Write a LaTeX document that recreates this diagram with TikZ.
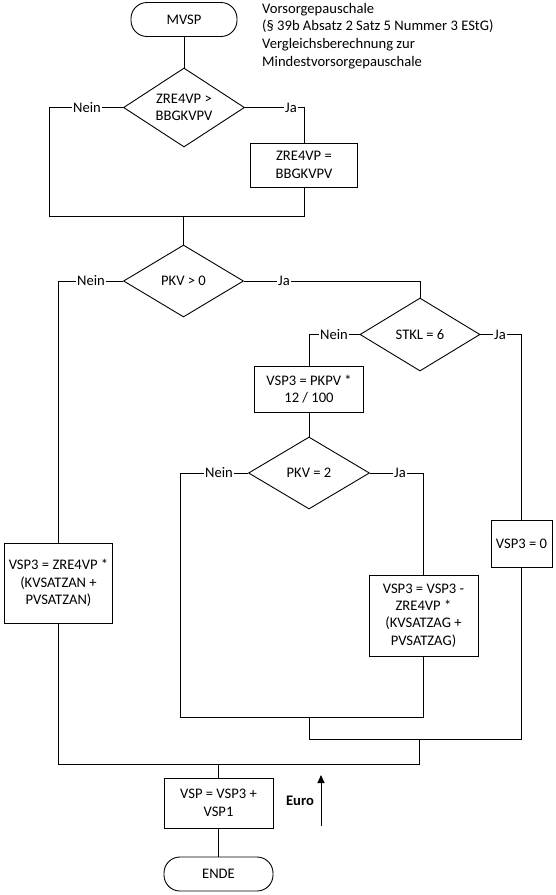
\documentclass[tikz,border=0pt]{standalone}
\usepackage{fontspec}
\setmainfont{Carlito}
\usetikzlibrary{shapes.geometric,arrows.meta}
\tikzset{
  base/.style={draw=black, line width=0.9pt, font=\fontsize{14.6}{17.4}\selectfont, align=center, inner sep=0pt},
  term/.style={base, rounded corners=16pt, minimum width=106pt, minimum height=34pt},
  proc/.style={base, rectangle},
  dec/.style={base, diamond, aspect=1.6},
  lbl/.style={fill=white, inner sep=1pt, font=\fontsize{14.6}{17.4}\selectfont},
  conn/.style={draw=black, line width=0.9pt},
}
\begin{document}
\begin{tikzpicture}[x=1pt,y=-1pt]
\useasboundingbox (0,0) rectangle (555,895);
% nodes
\node[term] (start) at (184,19.5) {MVSP};
\node[anchor=north west, align=left, inner sep=0pt, font=\fontsize{14.6}{17.6}\selectfont] (hdr) at (262,3) {Vorsorgepauschale\\(§ 39b Absatz 2 Satz 5 Nummer 3 EStG)\\Vergleichsberechnung zur\\Mindestvorsorgepauschale};
\node[dec, minimum width=121pt, minimum height=79pt] (d1) at (184,107.5) {ZRE4VP >\\BBGKVPV};
\node[proc, minimum width=107pt, minimum height=44pt] (box1) at (304,165) {ZRE4VP =\\BBGKVPV};
\node[dec, minimum width=120pt, minimum height=72pt] (d2) at (183.5,281) {PKV > 0};
\node[dec, minimum width=120pt, minimum height=73pt] (d3) at (420,334.5) {STKL = 6};
\node[proc, minimum width=109pt, minimum height=46pt] (pkpv) at (309,389) {VSP3 = PKPV *\\12 / 100};
\node[dec, minimum width=121pt, minimum height=72pt] (d4) at (309,473) {PKV = 2};
\node[proc, minimum width=108pt, minimum height=80pt] (zan) at (58.5,583) {VSP3 = ZRE4VP *\\(KVSATZAN +\\PVSATZAN)};
\node[proc, minimum width=61pt, minimum height=47pt] (zero) at (521.5,543.5) {VSP3 = 0};
\node[proc, minimum width=109pt, minimum height=81pt] (zag) at (423.5,615.5) {VSP3 = VSP3 -\\ZRE4VP *\\(KVSATZAG +\\PVSATZAG)};
\node[proc, minimum width=109pt, minimum height=50pt] (vsp) at (218.5,803) {VSP = VSP3 +\\VSP1};
\node[term, minimum width=109pt] (ende) at (218.5,874) {ENDE};
\node[font=\fontsize{14.6}{17.4}\selectfont\bfseries, inner sep=0pt] (euro) at (300,801) {Euro};
% coordinates
\coordinate (l1) at (49,216);
\coordinate (j1) at (183.5,216);
\coordinate (l4) at (180,717);
\coordinate (j4) at (309,717);
\coordinate (c4) at (309,739);
\coordinate (j3) at (419,739);
\coordinate (j2) at (218.5,764);
\coordinate (ea) at (321,826);
\coordinate (eb) at (321,775);
% connectors
\draw[conn] (start) -- (d1);
\draw[conn] (d1.west) -| (l1) -- (j1);
\draw[conn] (d1.east) -| (box1.north);
\draw[conn] (box1.south) |- (j1);
\draw[conn] (j1) -- (d2.north);
\draw[conn] (d2.west) -| (zan.north);
\draw[conn] (d2.east) -| (d3.north);
\draw[conn] (d3.west) -| (pkpv.north);
\draw[conn] (d3.east) -| (zero.north);
\draw[conn] (pkpv) -- (d4);
\draw[conn] (d4.west) -| (l4) -- (j4);
\draw[conn] (d4.east) -| (zag.north);
\draw[conn] (zag.south) |- (j4);
\draw[conn] (j4) -- (c4) -- (j3);
\draw[conn] (zero.south) |- (j3);
\draw[conn] (j3) |- (j2);
\draw[conn] (zan.south) |- (j2);
\draw[conn] (j2) -- (vsp.north);
\draw[conn] (vsp) -- (ende);
\draw[conn, -{Triangle[width=7pt,length=8pt]}] (ea) -- (eb);
% labels
\node[lbl] (n1) at (87,107.5) {Nein};
\node[lbl] (y1) at (291,107.5) {Ja};
\node[lbl] (n2) at (91,281) {Nein};
\node[lbl] (y2) at (284,281) {Ja};
\node[lbl] (n3) at (334,334.5) {Nein};
\node[lbl] (y3) at (500,334.5) {Ja};
\node[lbl] (n4) at (219,473) {Nein};
\node[lbl] (y4) at (400,473) {Ja};
\end{tikzpicture}
\end{document}
